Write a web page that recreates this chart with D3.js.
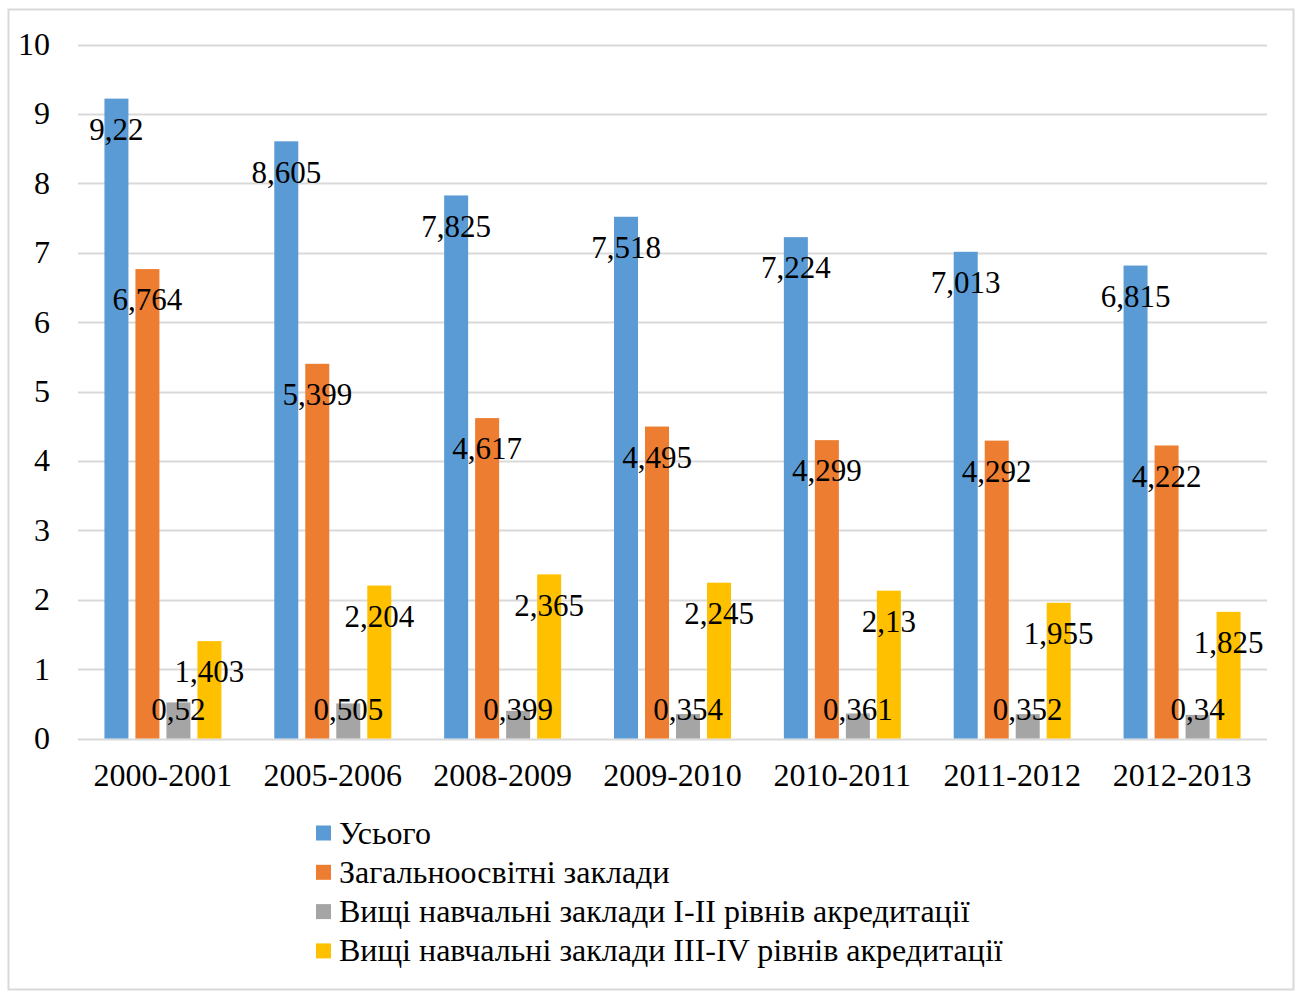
<!DOCTYPE html>
<html><head><meta charset="utf-8">
<script src="https://cdn.jsdelivr.net/npm/d3@7"></script>
<style>body{margin:0;background:#fff}</style>
</head><body>
<svg id="c" width="1298" height="994"></svg>
<script>
const categories = ["2000-2001","2005-2006","2008-2009","2009-2010","2010-2011","2011-2012","2012-2013"];
const seriesNames = ["Усього","Загальноосвітні заклади","Вищі навчальні заклади I-II рівнів акредитації","Вищі навчальні заклади III-IV рівнів акредитації"];
const total = [9.22, 8.605, 7.825, 7.518, 7.224, 7.013, 6.815];
const general = [6.764, 5.399, 4.617, 4.495, 4.299, 4.292, 4.222];
const higher12 = [0.52, 0.505, 0.399, 0.354, 0.361, 0.352, 0.34];
const higher34 = [1.403, 2.204, 2.365, 2.245, 2.13, 1.955, 1.825];
const yTicks = [0,1,2,3,4,5,6,7,8,9,10];
const colors = ["#5B9BD5","#ED7D31","#A5A5A5","#FFC000"];

(function(){
const series = [total, general, higher12, higher34];
const font = "'Liberation Serif','Times New Roman',serif";
const svg = d3.select("#c");

svg.append("rect").attr("x",8.5).attr("y",9.5).attr("width",1285).attr("height",980)
  .attr("fill","#fff").attr("stroke","#D9D9D9").attr("stroke-width",2);

const pLeft = 78, pRight = 1267, pTop = 44.5, pBottom = 738.5;
const x = d3.scaleBand().domain(categories).range([pLeft,pRight]).paddingInner(0).paddingOuter(0);
const y = d3.scaleLinear().domain([0,10]).range([pBottom, pTop]);
const barW = 24, gap = 7;
const groupW = 4*barW+3*gap;
const x1 = d3.scaleBand().domain(d3.range(4)).range([0, groupW]).paddingInner(gap/(barW+gap));

svg.append("g").selectAll("line").data(yTicks).join("line")
  .attr("x1",pLeft).attr("x2",pRight)
  .attr("y1",d=>Math.round(y(d))+0.5).attr("y2",d=>Math.round(y(d))+0.5)
  .attr("stroke","#D9D9D9").attr("stroke-width",2);

svg.append("g").selectAll("text").data(yTicks).join("text")
  .attr("x",50).attr("y",d=>y(d)).attr("dy","0.33em")
  .attr("text-anchor","end").attr("font-family",font).attr("font-size",32)
  .text(d=>d);

const g = svg.append("g");
categories.forEach((c,i)=>{
  const gx = x(c) + x.bandwidth()/2 - groupW/2;
  series.forEach((s,k)=>{
    const v = s[i];
    g.append("rect").attr("x",gx + x1(k)).attr("width",x1.bandwidth())
      .attr("y",y(v)).attr("height",pBottom - y(v)).attr("fill",colors[k]);
  });
});
const lg = svg.append("g");
categories.forEach((c,i)=>{
  const gx = x(c) + x.bandwidth()/2 - groupW/2;
  series.forEach((s,k)=>{
    const v = s[i];
    const cx = gx + x1(k) + x1.bandwidth()/2;
    const cy = Math.min(y(v) + 31, pBottom - 29);
    lg.append("text").attr("x",cx).attr("y",cy).attr("dy","0.33em")
      .attr("text-anchor","middle").attr("font-family",font).attr("font-size",31)
      .attr("fill","#000")
      .text(String(v).replace(".",","));
  });
});

svg.append("g").selectAll("text").data(categories).join("text")
  .attr("x",d=>x(d)+x.bandwidth()/2).attr("y",775).attr("dy","0.33em")
  .attr("text-anchor","middle").attr("font-family",font).attr("font-size",32)
  .text(d=>d);

const leg = svg.append("g");
seriesNames.forEach((n,k)=>{
  const ly = 833 + k*39.3;
  leg.append("rect").attr("x",316).attr("y",ly-7.5).attr("width",15).attr("height",15).attr("fill",colors[k]);
  leg.append("text").attr("x",339).attr("y",ly).attr("dy","0.33em")
    .attr("font-family",font).attr("font-size",32).text(n);
});
})();
</script>
</body></html>
